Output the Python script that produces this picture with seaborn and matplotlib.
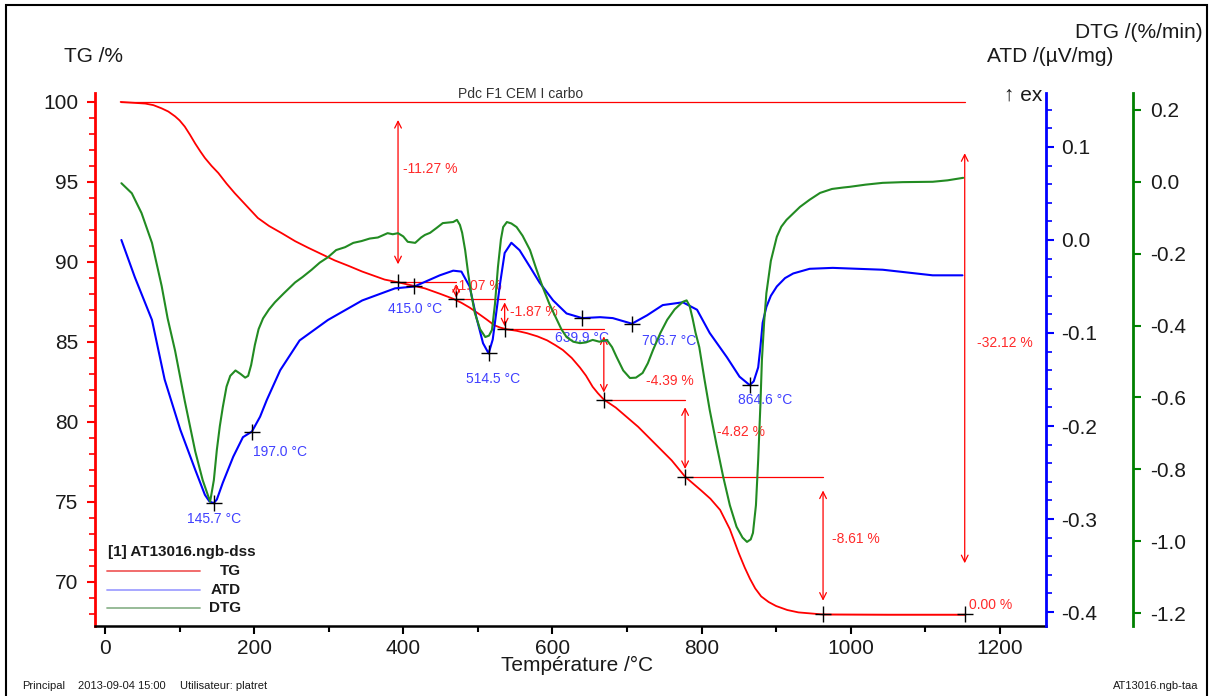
import numpy as np
import pandas as pd
import matplotlib
matplotlib.use('Agg')
import matplotlib.pyplot as plt
from matplotlib.ticker import MultipleLocator, FormatStrFormatter
from matplotlib.patches import Rectangle
import seaborn as sns

# TG curve (%)
tg_temp = [21, 54, 65, 76, 85, 94, 100, 107, 114, 121, 128, 134, 143, 152, 163, 174, 190, 205, 220, 237, 255,
           272, 290, 308, 327, 345, 360, 375, 393, 410, 429, 450, 467, 478, 489, 500, 512, 522, 530, 539, 552,
           566, 580, 593, 604, 614, 626, 637, 645, 654, 661, 669, 685, 700, 715, 730, 745, 760, 778, 790, 800,
           812, 825, 838, 850, 858, 865, 872, 880, 890, 900, 915, 930, 963, 1050, 1153]
tg_val = [100.0, 99.9, 99.8, 99.6, 99.4, 99.1, 98.85, 98.46, 97.95, 97.4, 96.9, 96.5, 96.0, 95.56, 94.9, 94.3,
          93.5, 92.75, 92.25, 91.8, 91.3, 90.9, 90.5, 90.1, 89.75, 89.4, 89.15, 88.9, 88.73, 88.55, 88.35, 88.0,
          87.7, 87.45, 87.15, 86.8, 86.4, 86.05, 85.9, 85.79, 85.7, 85.55, 85.35, 85.1, 84.8, 84.5, 84.0, 83.4,
          82.9, 82.2, 81.8, 81.4, 80.9, 80.3, 79.7, 79.0, 78.3, 77.6, 76.58, 76.1, 75.7, 75.2, 74.5, 73.3, 71.8,
          70.9, 70.2, 69.6, 69.1, 68.75, 68.5, 68.25, 68.1, 67.97, 67.95, 67.95]

# ATD curve (uV/mg)
atd_temp = [22, 40, 63, 80, 101, 121, 134, 140, 145.7, 150, 158, 172, 185, 197, 208, 217, 235, 261, 299, 345,
            389, 415, 449, 467, 478, 489, 498, 507, 514.5, 520, 530, 536, 545, 556, 570, 583, 601, 619, 640, 664,
            681, 706.7, 727, 748, 775, 794, 811, 834, 851, 864.6, 870, 876, 879, 882, 887, 893, 901, 912, 923,
            945, 976, 1043, 1110, 1150]
atd_val = [0.0, -0.04, -0.086, -0.15, -0.204, -0.247, -0.274, -0.281, -0.283, -0.279, -0.261, -0.233, -0.212,
           -0.206, -0.19, -0.172, -0.14, -0.108, -0.086, -0.065, -0.052, -0.05, -0.038, -0.033, -0.034, -0.05,
           -0.083, -0.111, -0.122, -0.107, -0.046, -0.014, -0.003, -0.011, -0.029, -0.046, -0.065, -0.079, -0.084,
           -0.083, -0.084, -0.09, -0.081, -0.07, -0.067, -0.075, -0.1, -0.126, -0.147, -0.156, -0.152, -0.137,
           -0.115, -0.089, -0.072, -0.06, -0.05, -0.041, -0.036, -0.031, -0.03, -0.032, -0.038, -0.038]

# DTG curve (%/min)
dtg_temp = [22, 36, 49, 63, 76, 84, 94, 107, 121, 131, 141, 146, 150, 154, 158, 163, 168, 175, 182, 188, 192,
            196, 201, 206, 212, 220, 228, 240, 255, 265, 277, 288, 299, 310, 322, 333, 344, 355, 366, 379, 386,
            393, 400, 406, 416, 424, 429, 436, 445, 453, 467, 472, 476, 479, 483, 487, 491, 496, 503, 510, 515,
            519, 523, 527, 531, 534, 539, 545, 552, 560, 570, 578, 587, 596, 606, 612, 619, 628, 637, 645, 654,
            663, 673, 680, 686, 695, 704, 712, 721, 728, 735, 745, 754, 764, 775, 780, 784, 788, 792, 797, 804,
            811, 820, 829, 838, 847, 855, 861, 866, 869, 873, 876, 879, 881, 884, 887, 893, 901, 907, 914, 922,
            932, 945, 959, 975, 990, 999, 1020, 1043, 1070, 1110, 1130, 1151]
dtg_val = [-0.004, -0.032, -0.087, -0.17, -0.29, -0.38, -0.47, -0.61, -0.75, -0.83, -0.89, -0.83, -0.746,
           -0.68, -0.627, -0.57, -0.54, -0.525, -0.535, -0.545, -0.54, -0.51, -0.454, -0.41, -0.38, -0.355,
           -0.335, -0.31, -0.28, -0.265, -0.245, -0.225, -0.21, -0.19, -0.182, -0.17, -0.165, -0.158, -0.155,
           -0.143, -0.146, -0.143, -0.152, -0.167, -0.17, -0.155, -0.148, -0.142, -0.128, -0.115, -0.112, -0.106,
           -0.12, -0.142, -0.19, -0.254, -0.31, -0.365, -0.41, -0.432, -0.428, -0.412, -0.34, -0.237, -0.16,
           -0.126, -0.112, -0.116, -0.126, -0.15, -0.19, -0.24, -0.293, -0.34, -0.384, -0.41, -0.432, -0.445,
           -0.449, -0.447, -0.44, -0.445, -0.44, -0.46, -0.487, -0.525, -0.546, -0.545, -0.532, -0.505, -0.468,
           -0.42, -0.384, -0.355, -0.334, -0.33, -0.345, -0.38, -0.42, -0.46, -0.55, -0.635, -0.73, -0.82, -0.9,
           -0.96, -0.99, -1.002, -0.995, -0.977, -0.9, -0.774, -0.62, -0.496, -0.39, -0.31, -0.22, -0.153, -0.125,
           -0.106, -0.09, -0.07, -0.05, -0.031, -0.02, -0.016, -0.014, -0.008, -0.003, -0.001, 0.0, 0.004, 0.011]

# mass loss steps on TG
step_temp = [393, 471, 536, 669, 778, 963, 1153]
step_loss = [-11.27, -1.07, -1.87, -4.39, -4.82, -8.61]
total_loss = -32.12
last_loss = 0.00

# ATD peaks
peak_temp = [145.7, 197.0, 415.0, 514.5, 639.9, 706.7, 864.6]
peak_val = [-0.283, -0.206, -0.050, -0.122, -0.084, -0.090, -0.156]

# axis ticks
tg_ticks = [70, 75, 80, 85, 90, 95, 100]
atd_ticks = [-0.4, -0.3, -0.2, -0.1, 0.0, 0.1]
dtg_ticks = [-1.2, -1.0, -0.8, -0.6, -0.4, -0.2, 0.0, 0.2]

sns.set_style('ticks')
plt.rcParams['font.family'] = ['Liberation Sans', 'DejaVu Sans']
plt.rcParams['axes.unicode_minus'] = False

RED, BLUE, GREEN = '#ff0000', '#0000ff', '#228b22'
TXT = '#1a1a1a'

fig = plt.figure(figsize=(12.11, 6.96), dpi=100)
ax = fig.add_axes([95/1211, 70/696, 951/1211, 533/696])
ax2 = ax.twinx()
ax3 = ax.twinx()
ax3.spines['right'].set_position(('axes', (1133-95)/951))

sns.lineplot(x=tg_temp, y=tg_val, ax=ax, color=RED, lw=1.3, zorder=3)
sns.lineplot(x=atd_temp, y=atd_val, ax=ax2, color=BLUE, lw=1.5)
sns.lineplot(x=dtg_temp, y=dtg_val, ax=ax3, color=GREEN, lw=1.5)

ax.set_xlim(-13.4, 1262)
ax.set_ylim(67.25, 100.56)
ax2.set_ylim(-0.415, 0.158)
ax3.set_ylim(-1.236, 0.247)

# spines
for a in (ax, ax2, ax3):
    a.spines['top'].set_visible(False)
ax.spines['right'].set_visible(False)
ax.spines['left'].set_color(RED)
ax.spines['left'].set_linewidth(2)
ax.spines['bottom'].set_color('black')
ax.spines['bottom'].set_linewidth(1.8)
for a, c in ((ax2, BLUE), (ax3, '#008000')):
    a.spines['left'].set_visible(False)
    a.spines['bottom'].set_visible(False)
    a.spines['right'].set_color(c)
    a.spines['right'].set_linewidth(2)

ax.set_xticks(range(0, 1201, 200))
ax.xaxis.set_minor_locator(MultipleLocator(100))
ax.set_yticks(tg_ticks)
ax.yaxis.set_minor_locator(MultipleLocator(1))
ax2.set_yticks(atd_ticks)
ax2.yaxis.set_minor_locator(MultipleLocator(0.02))
ax2.yaxis.set_major_formatter(FormatStrFormatter('%.1f'))
ax3.set_yticks(dtg_ticks)
ax3.yaxis.set_major_formatter(FormatStrFormatter('%.1f'))

ax.tick_params(axis='x', which='major', length=6, width=1.5, color='black', labelsize=15, labelcolor=TXT, pad=3)
ax.tick_params(axis='x', which='minor', length=4, width=1.5, color='black')
ax.tick_params(axis='y', which='major', length=6, width=1.5, color=RED, labelsize=15, labelcolor=TXT, pad=6)
ax.tick_params(axis='y', which='minor', length=4, width=1.2, color=RED)
ax2.tick_params(axis='y', which='major', length=6, width=1.5, color=BLUE, labelsize=15, labelcolor=TXT, pad=5)
ax2.tick_params(axis='y', which='minor', length=4, width=1.2, color=BLUE)
ax3.tick_params(axis='y', which='major', length=6, width=1.5, color='#008000', labelsize=15, labelcolor=TXT, pad=6)
ax.set_xlabel('')
ax.set_ylabel('')
ax2.set_ylabel('')
ax3.set_ylabel('')

# TG step annotations
levels = list(100 + np.cumsum(step_loss))
lred = '#ff2a2a'
arrow_kw = dict(arrowstyle='<->', color=RED, lw=0.9, shrinkA=0, shrinkB=0, mutation_scale=12)


def step_arrow(x, top, bottom):
    d = top - bottom
    ax.annotate('', xy=(x, bottom + 0.1 * d), xytext=(x, top - 0.1 * d), arrowprops=arrow_kw)


ax.plot([tg_temp[0], step_temp[-1]], [100, 100], color=RED, lw=0.9)
step_arrow(step_temp[0], 100, levels[0])
for i in range(1, len(step_loss)):
    ax.plot([step_temp[i-1], step_temp[i]], [levels[i-1], levels[i-1]], color=RED, lw=0.9)
    step_arrow(step_temp[i], levels[i-1], levels[i])
ax.plot([step_temp[-2], step_temp[-1]], [levels[-1], levels[-1]], color=RED, lw=0.9)
step_arrow(step_temp[-1], 100, levels[-1])

label_dx = [5, -2, 5, 42, 32, 9]
label_frac = [0.37, 0.24, 0.43, 0.74, 0.42, 0.45]
prev = [100] + levels[:-1]
for i, loss in enumerate(step_loss):
    y = prev[i] - label_frac[i] * (prev[i] - levels[i])
    ax.annotate(f'{loss:.2f} %', xy=(step_temp[i], y), xytext=(label_dx[i], 0), textcoords='offset pixels',
                ha='left', va='center', color=lred, fontsize=10)
ax.annotate(f'{total_loss:.2f} %', xy=(step_temp[-1], 100 - 0.47 * (100 - levels[-1])), xytext=(12, 0),
            textcoords='offset pixels', ha='left', va='center', color=lred, fontsize=10)
ax.annotate(f'{last_loss:.2f} %', xy=(step_temp[-1], levels[-1]), xytext=(4, 9),
            textcoords='offset pixels', ha='left', va='center', color=lred, fontsize=10)

cross_x = step_temp
cross_y = levels + [levels[-1]]
ax.plot(cross_x, cross_y, ls='none', marker='+', ms=12, mew=1, color='black', zorder=5)

# ATD peaks
peak_off = [(0, -16, 'center'), (1, -20, 'left'), (1, -23, 'center'), (4, -26, 'center'),
            (0, -20, 'center'), (10, -17, 'left'), (15, -15, 'center')]
ax2.plot(peak_temp, peak_val, ls='none', marker='+', ms=12, mew=1, color='black', zorder=5)
for t, v, (dx, dy, ha) in zip(peak_temp, peak_val, peak_off):
    ax2.annotate(f'{t:.1f} °C', xy=(t, v), xytext=(dx, dy), textcoords='offset pixels',
                 ha=ha, va='center', color='#4040ff', fontsize=10)

# legend
def axf(px, py):
    return (px - 95) / 951, (626 - py) / 533


tx, ty = axf(108, 552)
ax.text(tx, ty, '[1] AT13016.ngb-dss', transform=ax.transAxes, fontsize=11, fontweight='bold',
        color=TXT, ha='left', va='center')
for name, col, py in (('TG', '#f06060', 571), ('ATD', '#a0a0ff', 590), ('DTG', '#8fb58f', 608)):
    x0, y0 = axf(107, py)
    x1, _ = axf(200, py)
    ax.plot([x0, x1], [y0, y0], transform=ax.transAxes, color=col, lw=1.3)
    xl, _ = axf(241, py)
    ax.text(xl, y0, name, transform=ax.transAxes, fontsize=11, fontweight='bold', color=TXT,
            ha='right', va='center')

# texts around the axes
def ftext(px, py, s, **kw):
    fig.text(px / 1211, 1 - py / 696, s, **kw)


ftext(94, 57, 'TG /%', fontsize=15, color=TXT, ha='center', va='center')
ftext(1113, 57, 'ATD /(µV/mg)', fontsize=15, color=TXT, ha='right', va='center')
ftext(1203, 33, 'DTG /(%/min)', fontsize=15, color=TXT, ha='right', va='center')
ftext(1023, 95, '↑ ex', fontsize=15, color=TXT, ha='center', va='center')
ftext(577, 665, 'Température /°C', fontsize=15, color=TXT, ha='center', va='center')
ftext(521, 94, 'Pdc F1 CEM I carbo', fontsize=10, color='#333333', ha='center', va='center')
ftext(22, 686, 'Principal', fontsize=8, color=TXT, ha='left', va='center')
ftext(78, 686, '2013-09-04 15:00', fontsize=8, color=TXT, ha='left', va='center')
ftext(180, 686, 'Utilisateur: platret', fontsize=8, color=TXT, ha='left', va='center')
ftext(1198, 686, 'AT13016.ngb-taa', fontsize=8, color=TXT, ha='right', va='center')

fig.patches.append(Rectangle((6/1211, -0.05), (1207-6)/1211, 1 - 5/696 + 0.05, transform=fig.transFigure,
                             fill=False, ec='black', lw=1.5))

fig.savefig('out.png', dpi=100)
